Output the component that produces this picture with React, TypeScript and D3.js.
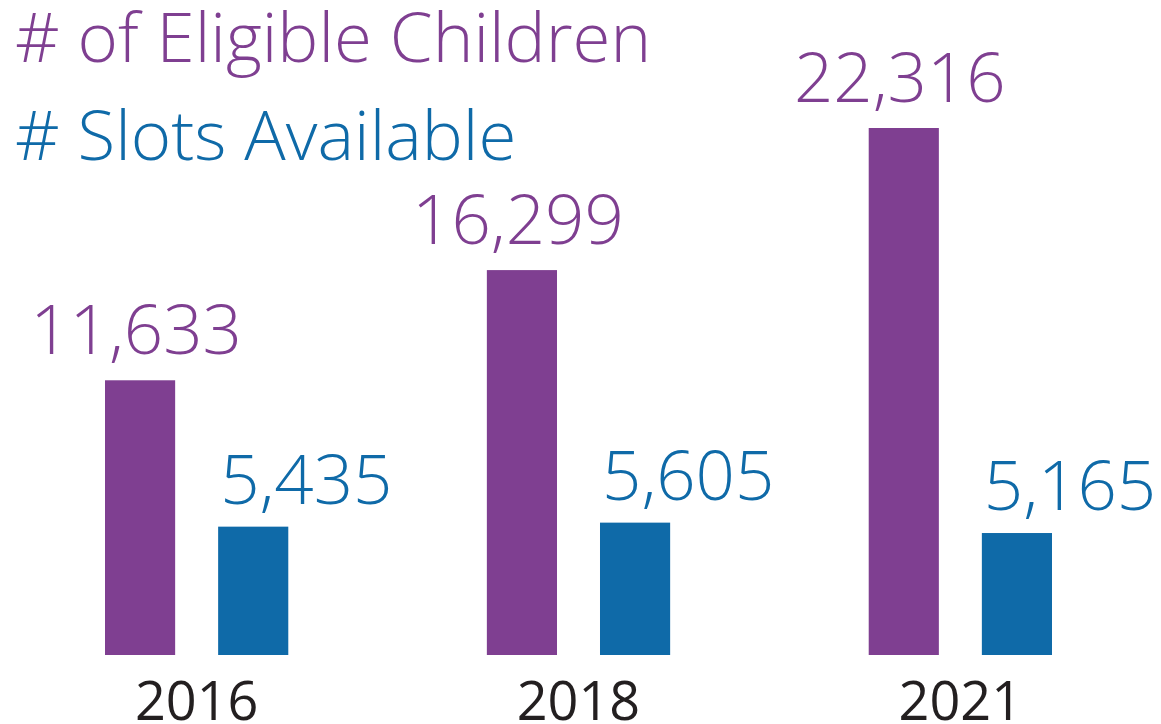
import React, { useEffect, useRef } from "react"
import * as d3 from "d3"

// ---------- Data ----------
const years = ["2016", "2018", "2021"]
const seriesKeys = ["eligible", "slots"]
const seriesNames = ["# of Eligible Children", "# Slots Available"]
const eligibleValues = [11633, 16299, 22316]
const slotsValues = [5435, 5605, 5165]

const PURPLE = "#7f3f91"
const BLUE = "#0f6aa8"
const colors: Record<string, string> = { eligible: PURPLE, slots: BLUE }

const W = 1161
const H = 724
const FONT = "'Open Sans', 'Segoe UI', sans-serif"

const App: React.FC = () => {
    const svgRef = useRef<SVGSVGElement>(null)

    useEffect(() => {
        if (!svgRef.current) return
        const svg = d3.select(svgRef.current)
        svg.selectAll("*").remove()

        const baseline = 655

        // Scales
        const x0 = d3.scaleBand<string>()
            .domain(years)
            .range([105, 1052])
            .paddingInner(0.52)
            .paddingOuter(0)

        const x1 = d3.scaleBand<string>()
            .domain(seriesKeys)
            .range([0, x0.bandwidth()])
            .paddingInner(0.38)
            .paddingOuter(0)

        const y = d3.scaleLinear()
            .domain([0, d3.max(eligibleValues) ?? 0])
            .range([baseline, 128])

        const rows = years.map((yr, i) => ({
            year: yr,
            values: [
                { key: "eligible", value: eligibleValues[i] },
                { key: "slots", value: slotsValues[i] }
            ]
        }))

        const fmt = d3.format(",")

        const groups = svg.append("g")
            .selectAll("g")
            .data(rows)
            .enter()
            .append("g")
            .attr("transform", d => `translate(${x0(d.year)},0)`)

        // Bars
        groups.selectAll("rect")
            .data(d => d.values)
            .enter()
            .append("rect")
            .attr("x", d => x1(d.key) ?? 0)
            .attr("y", d => y(d.value))
            .attr("width", x1.bandwidth())
            .attr("height", d => baseline - y(d.value))
            .attr("fill", d => colors[d.key])

        // Value labels: purple centered, blue left aligned to bar
        groups.selectAll("text.value")
            .data(d => d.values)
            .enter()
            .append("text")
            .attr("class", "value")
            .attr("x", d => d.key === "eligible"
                ? (x1(d.key) ?? 0) + x1.bandwidth() / 2 - 4
                : (x1(d.key) ?? 0) + 2)
            .attr("y", d => y(d.value) - (d.key === "eligible" ? 26 : 23))
            .attr("text-anchor", d => d.key === "eligible" ? "middle" : "start")
            .attr("fill", d => colors[d.key])
            .attr("font-family", FONT)
            .attr("font-weight", 300)
            .attr("font-size", 69)
            .text(d => fmt(d.value))

        // Year labels
        svg.append("g")
            .selectAll("text")
            .data(years)
            .enter()
            .append("text")
            .attr("x", d => (x0(d) ?? 0) + x0.bandwidth() / 2)
            .attr("y", 720)
            .attr("text-anchor", "middle")
            .attr("fill", "#231f20")
            .attr("font-family", FONT)
            .attr("font-size", 54)
            .text(d => d)

        // Legend titles
        svg.append("g")
            .selectAll("text")
            .data(seriesKeys)
            .enter()
            .append("text")
            .attr("x", 15)
            .attr("y", (_, i) => 62 + i * 98)
            .attr("fill", d => colors[d])
            .attr("font-family", FONT)
            .attr("font-weight", 300)
            .attr("font-size", 69)
            .text((_, i) => seriesNames[i])
    }, [])

    return (
        <svg
            ref={svgRef}
            width={W}
            height={H}
            viewBox={`0 0 ${W} ${H}`}
            style={{ position: "absolute", left: 0, top: 0, background: "#fff" }}
        />
    )
}

export default App
